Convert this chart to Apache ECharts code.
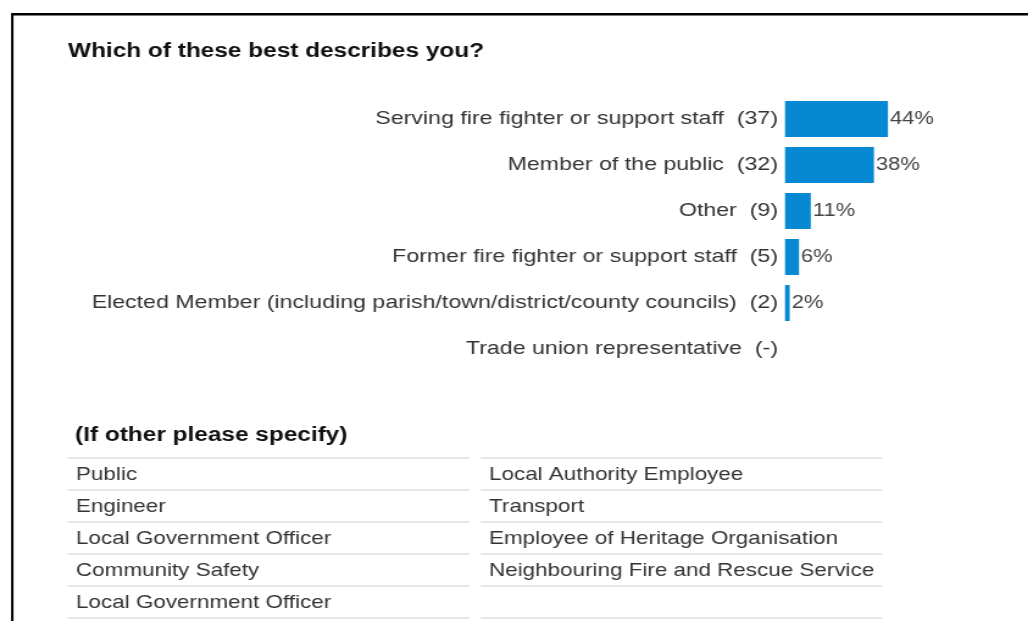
<!DOCTYPE html>
<html>
<head>
<meta charset="utf-8">
<script src="https://cdn.jsdelivr.net/npm/echarts@6/dist/echarts.min.js"></script>
<style>
  html, body { margin: 0; padding: 0; background: #fff; overflow: hidden; }
  /* the source picture is a horizontally stretched screenshot, so the chart
     is drawn narrower and widened back with a scaleX */
  #chart { width: 843px; height: 621px; transform: scaleX(1.2195); transform-origin: 0 0; }
</style>
</head>
<body>
<div id="chart"></div>
<script>
// answer categories, counts and percentages
const categories = [
  'Serving fire fighter or support staff',
  'Member of the public',
  'Other',
  'Former fire fighter or support staff',
  'Elected Member (including parish/town/district/county councils)',
  'Trade union representative'
]
const counts = [37, 32, 9, 5, 2, null]
const percents = [44, 38, 11, 6, 2, null]

// free-text answers for "other"
const otherLeft = ['Public', 'Engineer', 'Local Government Officer', 'Community Safety', 'Local Government Officer']
const otherRight = ['Local Authority Employee', 'Transport', 'Employee of Heritage Organisation', 'Neighbouring Fire and Rescue Service']

const sx = 1.2195 // horizontal stretch, x positions below are divided by it
const font = '"Liberation Sans", Arial, sans-serif'
const textColor = '#333'
const lineColor = '#e6e6e6'

const chart = echarts.init(document.getElementById('chart'))

// table of "other" answers drawn as graphic text + rule lines
const tableGraphics = []
const rowH = 32
const tableTop = 458
const cols = [
  { x: 68 / sx, w: 401 / sx, items: otherLeft },
  { x: 481 / sx, w: 401 / sx, items: otherRight }
]
cols.forEach(col => {
  for (let i = 0; i <= otherLeft.length; i++) {
    const y = tableTop + i * rowH
    tableGraphics.push({
      type: 'rect',
      shape: { x: col.x, y: y - 1, width: col.w, height: 2 },
      style: { fill: lineColor },
      silent: true
    })
  }
  col.items.forEach((t, i) => {
    tableGraphics.push({
      type: 'text',
      x: col.x + 8 / sx,
      y: tableTop + i * rowH + rowH / 2 + 1,
      style: {
        text: t,
        font: '18.4px ' + font,
        fill: textColor,
        verticalAlign: 'middle'
      }
    })
  })
})

const option = {
  backgroundColor: '#fff',
  animation: false,
  title: {
    text: 'Which of these best describes you?',
    left: 68 / sx,
    top: 41,
    padding: 0,
    textStyle: { fontFamily: font, fontSize: 20, fontWeight: 'bold', color: '#111' }
  },
  grid: {
    left: 785 / sx,
    top: 96,
    width: 234 / sx,
    height: 276,
    containLabel: false
  },
  xAxis: {
    type: 'value',
    min: 0,
    max: 100,
    show: false
  },
  yAxis: {
    type: 'category',
    data: categories,
    inverse: true,
    axisLine: { show: false },
    axisTick: { show: false },
    splitLine: { show: false },
    axisLabel: {
      margin: 7 / sx,
      padding: [3, 0, 0, 0],
      fontFamily: font,
      fontSize: 19,
      color: textColor,
      formatter: (v, i) => v + '  (' + (counts[i] == null ? '-' : counts[i]) + ')'
    }
  },
  series: [{
    type: 'bar',
    data: percents,
    barWidth: 36,
    itemStyle: { color: '#0688d3' },
    label: {
      show: true,
      position: 'right',
      distance: 2 / sx,
      padding: [3, 0, 0, 0],
      fontFamily: font,
      fontSize: 18,
      color: '#444',
      formatter: p => p.value == null ? '' : p.value + '%'
    }
  }],
  graphic: [
    // frame lines
    { type: 'rect', shape: { x: 11 / sx, y: 13, width: 1028 / sx, height: 2.5 }, style: { fill: '#000' }, silent: true },
    { type: 'rect', shape: { x: 11 / sx, y: 13, width: 2.5 / sx, height: 608 }, style: { fill: '#000' }, silent: true },
    {
      type: 'text',
      x: 75 / sx,
      y: 435,
      style: {
        text: '(If other please specify)',
        font: 'bold 20px ' + font,
        fill: '#111',
        verticalAlign: 'middle'
      }
    },
    ...tableGraphics
  ]
}

chart.setOption(option)
</script>
</body>
</html>
